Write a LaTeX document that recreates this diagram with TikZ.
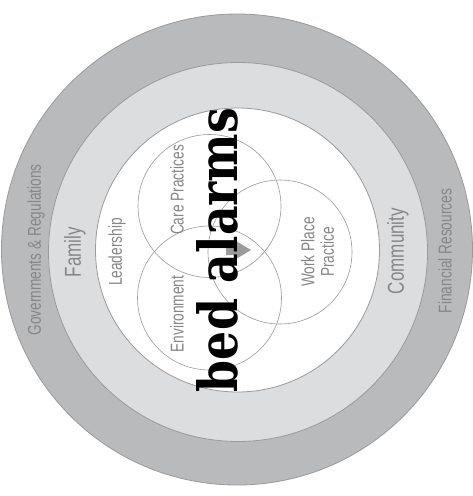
\documentclass[tikz,border=0pt]{standalone}
\usepackage{fontspec}
\usepackage{graphicx}
\newfontfamily\labfont[FakeStretch=0.74]{Liberation Sans}
\newfontfamily\titlefont{DejaVu Serif}
\definecolor{ringouter}{HTML}{B9BABC}
\definecolor{ringmid}{HTML}{DCDDDF}
\definecolor{edgegray}{HTML}{9A9A9A}
\definecolor{labgray}{HTML}{868686}
\begin{document}
\begin{tikzpicture}[x=1pt,y=-1pt,
  ring/.style={draw=edgegray,line width=0.8pt},
  venn/.style={draw=edgegray,line width=0.6pt},
  lab/.style={rotate=90,text=labgray,inner sep=0pt,font=\labfont\fontsize{18.5}{19}\selectfont,align=center},
  biglab/.style={lab,font=\labfont\fontsize{23}{24}\selectfont}]
\useasboundingbox (0,0) rectangle (472,496);
\fill[white] (0,0) rectangle (472,496);
% rings
\draw[ring,fill=ringouter] (237,249.5) circle (235.5);
\draw[ring,fill=ringmid] (238,252) circle (189.5);
\draw[ring,fill=white] (237.5,250) circle (142);
% venn circles
\draw[venn] (209.5,206) circle (71.5);
\draw[venn] (209.5,298) circle (72);
\draw[venn] (280,252) circle (72);
% arrow
\fill[edgegray] (226,245) -- (236,245) -- (236,241) -- (251,250) -- (236,259) -- (236,255) -- (226,255) -- cycle;
% labels
\node[lab] (gov) at (36,250) {Governments \& Regulations};
\node[biglab] (fam) at (75,252) {Family};
\node[lab] (lead) at (117,252) {Leadership};
\node[lab] (care) at (177,190) {Care Practices};
\node[lab] (env) at (177,314) {Environment};
\node[lab,font=\labfont\fontsize{18.5}{19.5}\selectfont] (work) at (317.5,252) {Work Place\\Practice};
\node[biglab] (comm) at (398,251) {Community};
\node[lab] (fin) at (445,251) {Financial Resources};
% big title
\node[rotate=90,inner sep=0pt] (title) at (217.5,250) {\resizebox{284pt}{41pt}{\titlefont\bfseries bed alarms}};
\end{tikzpicture}
\end{document}
